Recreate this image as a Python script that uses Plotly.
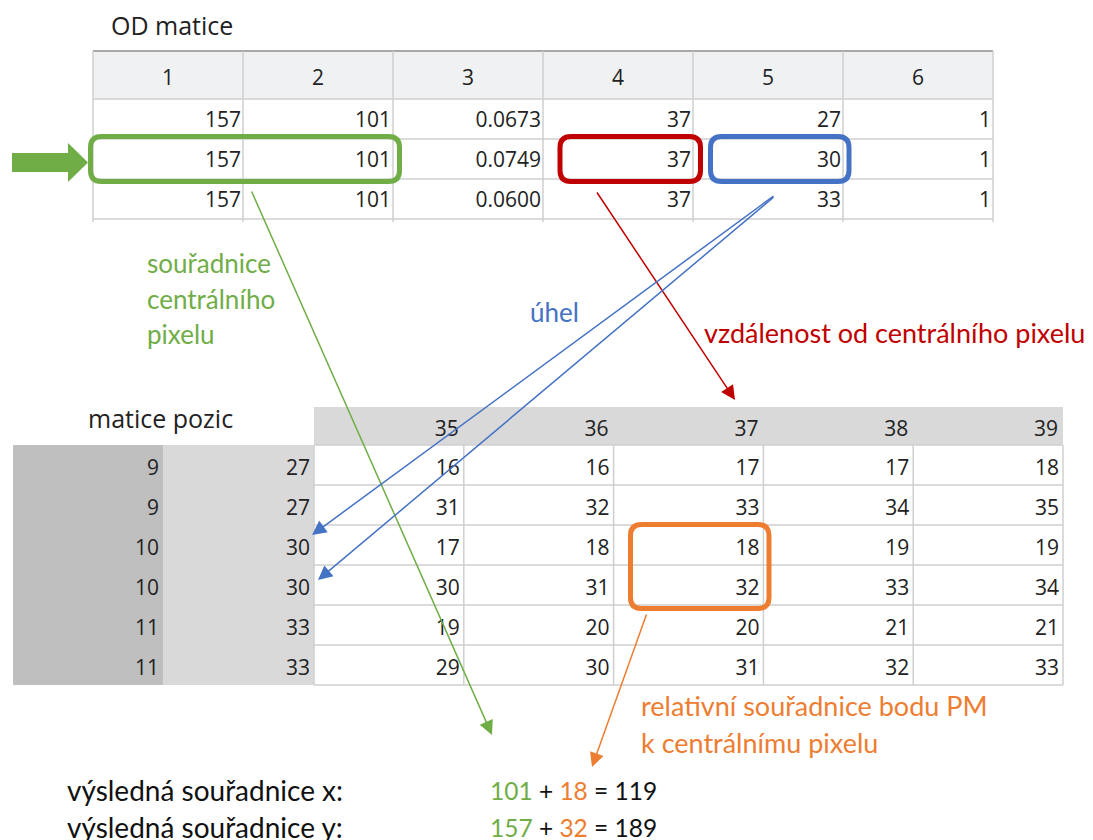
import plotly.graph_objects as go

W, H = 1093, 840

# ---------------- data ----------------
od_title = "OD matice"
od_header = ["1", "2", "3", "4", "5", "6"]
od_col1 = [157, 157, 157]
od_col2 = [101, 101, 101]
od_col3 = ["0.0673", "0.0749", "0.0600"]
od_col4 = [37, 37, 37]
od_col5 = [27, 30, 33]
od_col6 = [1, 1, 1]

pos_title = "matice pozic"
pos_header = [35, 36, 37, 38, 39]
pos_index_a = [9, 9, 10, 10, 11, 11]
pos_index_b = [27, 27, 30, 30, 33, 33]
pos_col35 = [16, 31, 17, 30, 19, 29]
pos_col36 = [16, 32, 18, 31, 20, 30]
pos_col37 = [17, 33, 18, 32, 20, 31]
pos_col38 = [17, 34, 19, 33, 21, 32]
pos_col39 = [18, 35, 19, 34, 21, 33]

result_labels = ["výsledná souřadnice x:", "výsledná souřadnice y:"]
central = [101, 157]
relative = [18, 32]
result = [119, 189]

label_central = ["souřadnice", "centrálního", "pixelu"]
label_angle = "úhel"
label_dist = "vzdálenost od centrálního pixelu"
label_rel = ["relativní souřadnice bodu PM", "k centrálnímu pixelu"]

# ---------------- style ----------------
GREEN = "#70ad47"
RED = "#c00000"
BLUE = "#4472c4"
ORANGE = "#ed7d31"
GRID = "#cfcfcf"
TFONT = "Open Sans"
LFONT = "Lato"
TSIZE = 21
TCOLOR = "#222"

fig = go.Figure()
shapes = []
annotations = []

# ---------------- OD table geometry ----------------
od_x = [93 + 150 * i for i in range(7)]
od_hy0, od_hy1 = 51, 99
od_rh = 40
od_ny = len(od_col1)
od_bottom = od_hy1 + od_rh * od_ny

shapes.append(dict(type="rect", x0=od_x[0], x1=od_x[-1], y0=od_hy0, y1=od_hy1,
                   fillcolor="#f0f1f3", line=dict(width=0), layer="below"))
for j in range(od_ny + 1):
    y = od_hy1 + od_rh * j
    shapes.append(dict(type="line", x0=od_x[0], x1=od_x[-1], y0=y, y1=y,
                       line=dict(color=GRID, width=1.5), layer="below"))
shapes.append(dict(type="line", x0=od_x[0], x1=od_x[-1], y0=od_hy0, y1=od_hy0,
                   line=dict(color="#a8a8a8", width=2), layer="below"))
for x in od_x:
    shapes.append(dict(type="line", x0=x, x1=x, y0=od_hy0, y1=od_bottom + 3,
                       line=dict(color=GRID, width=1.5), layer="below"))

fig.add_trace(go.Scatter(
    x=[(od_x[i] + od_x[i + 1]) / 2 for i in range(6)], y=[80] * 6,
    text=od_header, mode="text", textposition="middle center",
    textfont=dict(family=TFONT, size=TSIZE, color=TCOLOR), hoverinfo="skip"))
od_cols = [od_col1, od_col2, od_col3, od_col4, od_col5, od_col6]
for i, col in enumerate(od_cols):
    fig.add_trace(go.Scatter(
        x=[od_x[i + 1] - 2] * len(col),
        y=[od_hy1 + od_rh * (j + 0.5) + 3 for j in range(len(col))],
        text=[str(v) for v in col], mode="text", textposition="middle left",
        textfont=dict(family=TFONT, size=TSIZE, color=TCOLOR), hoverinfo="skip"))

annotations.append(dict(x=109, y=25, text=od_title, showarrow=False, xanchor="left",
                        yanchor="middle", font=dict(family=TFONT, size=25, color=TCOLOR)))

# ---------------- POS table geometry ----------------
pos_x = [314 + 149.8 * i for i in range(6)]
pos_hy0, pos_hy1 = 407, 445
pos_rh = 40
pos_ny = len(pos_index_a)
pos_bottom = pos_hy1 + pos_rh * pos_ny
idx_x = [13, 163, 314]

shapes.append(dict(type="rect", x0=pos_x[0], x1=pos_x[-1], y0=pos_hy0, y1=pos_hy1,
                   fillcolor="#d9d9d9", line=dict(width=0), layer="below"))
shapes.append(dict(type="rect", x0=idx_x[0], x1=idx_x[1], y0=pos_hy1, y1=pos_bottom,
                   fillcolor="#bfbfbf", line=dict(width=0), layer="below"))
shapes.append(dict(type="rect", x0=idx_x[1], x1=idx_x[2], y0=pos_hy1, y1=pos_bottom,
                   fillcolor="#d9d9d9", line=dict(width=0), layer="below"))
for j in range(pos_ny + 1):
    y = pos_hy1 + pos_rh * j
    shapes.append(dict(type="line", x0=pos_x[0], x1=pos_x[-1], y0=y, y1=y,
                       line=dict(color=GRID, width=1.5), layer="below"))
for x in pos_x:
    shapes.append(dict(type="line", x0=x, x1=x, y0=pos_hy1, y1=pos_bottom,
                       line=dict(color=GRID, width=1.5), layer="below"))

fig.add_trace(go.Scatter(
    x=[pos_x[i + 1] - 5 for i in range(5)], y=[431] * 5,
    text=[str(v) for v in pos_header], mode="text", textposition="middle left",
    textfont=dict(family=TFONT, size=TSIZE, color=TCOLOR), hoverinfo="skip"))
row_y = [pos_hy1 + pos_rh * (j + 0.5) + 5 for j in range(pos_ny)]
fig.add_trace(go.Scatter(
    x=[idx_x[1] - 4] * pos_ny, y=row_y, text=[str(v) for v in pos_index_a],
    mode="text", textposition="middle left",
    textfont=dict(family=TFONT, size=TSIZE, color=TCOLOR), hoverinfo="skip"))
fig.add_trace(go.Scatter(
    x=[idx_x[2] - 4] * pos_ny, y=row_y, text=[str(v) for v in pos_index_b],
    mode="text", textposition="middle left",
    textfont=dict(family=TFONT, size=TSIZE, color=TCOLOR), hoverinfo="skip"))
pos_cols = [pos_col35, pos_col36, pos_col37, pos_col38, pos_col39]
for i, col in enumerate(pos_cols):
    fig.add_trace(go.Scatter(
        x=[pos_x[i + 1] - 4] * len(col), y=row_y, text=[str(v) for v in col],
        mode="text", textposition="middle left",
        textfont=dict(family=TFONT, size=TSIZE, color=TCOLOR), hoverinfo="skip"))

annotations.append(dict(x=86, y=418, text=pos_title, showarrow=False, xanchor="left",
                        yanchor="middle", font=dict(family=TFONT, size=25, color=TCOLOR)))


# ---------------- highlight boxes ----------------
def rrect(x0, y0, x1, y1, r):
    return (f"M {x0 + r},{y0} L {x1 - r},{y0} Q {x1},{y0} {x1},{y0 + r} "
            f"L {x1},{y1 - r} Q {x1},{y1} {x1 - r},{y1} L {x0 + r},{y1} "
            f"Q {x0},{y1} {x0},{y1 - r} L {x0},{y0 + r} Q {x0},{y0} {x0 + r},{y0} Z")


for (x0, y0, x1, y1, c) in [(90.5, 136.5, 399.5, 181.5, GREEN),
                            (560, 136.5, 700.5, 181.5, RED),
                            (710.5, 136.5, 849, 181.5, BLUE),
                            (630.5, 524.5, 769, 608.5, ORANGE)]:
    shapes.append(dict(type="path", path=rrect(x0, y0, x1, y1, 11),
                       line=dict(color=c, width=5), fillcolor="rgba(0,0,0,0)", layer="above"))

shapes.append(dict(type="path",
                   path="M 12,153 L 68,153 L 68,143 L 88,162.5 L 68,182 L 68,172 L 12,172 Z",
                   fillcolor=GREEN, line=dict(width=0), layer="above"))


# ---------------- connector arrows ----------------
def arrow(x0, y0, x1, y1, c):
    annotations.append(dict(x=x1, y=y1, ax=x0, ay=y0, xref="x", yref="y", axref="x", ayref="y",
                            text="", showarrow=True, arrowhead=2, arrowsize=1.9,
                            arrowwidth=1.5, arrowcolor=c))


arrow(251, 190, 492, 735, GREEN)
arrow(596, 191, 735, 400, RED)
arrow(775, 195, 312, 535, BLUE)
arrow(775, 196, 318, 580, BLUE)
arrow(647, 613, 592, 767, ORANGE)

# ---------------- labels ----------------
for k, t in enumerate(label_central):
    annotations.append(dict(x=145, y=263 + 35.5 * k, text=t, showarrow=False, xanchor="left",
                            yanchor="middle", font=dict(family=LFONT, size=26, color=GREEN)))
annotations.append(dict(x=528, y=312, text=label_angle, showarrow=False, xanchor="left",
                        yanchor="middle", font=dict(family=LFONT, size=26, color=BLUE)))
annotations.append(dict(x=702, y=332, text=label_dist, showarrow=False, xanchor="left",
                        yanchor="middle", font=dict(family=LFONT, size=27, color=RED)))
for k, t in enumerate(label_rel):
    annotations.append(dict(x=639, y=705 + 37 * k, text=t, showarrow=False, xanchor="left",
                            yanchor="middle", font=dict(family=LFONT, size=27, color=ORANGE)))

for k in range(2):
    y = 790 + 37 * k
    annotations.append(dict(x=65, y=y, text=result_labels[k], showarrow=False, xanchor="left",
                            yanchor="middle", font=dict(family=LFONT, size=28, color="#111")))
    eq = (f"<span style='color:{GREEN}'>{central[k]}</span> + "
          f"<span style='color:{ORANGE}'>{relative[k]}</span> = {result[k]}")
    annotations.append(dict(x=488, y=y, text=eq, showarrow=False, xanchor="left",
                            yanchor="middle", font=dict(family=LFONT, size=24.5, color="#111")))

fig.update_layout(
    width=W, height=H, margin=dict(l=0, r=0, t=0, b=0),
    paper_bgcolor="white", plot_bgcolor="white", showlegend=False,
    xaxis=dict(range=[0, W], visible=False, fixedrange=True),
    yaxis=dict(range=[H, 0], visible=False, fixedrange=True),
    shapes=shapes, annotations=annotations,
)

fig.write_html("out.html", config={"displayModeBar": False},
               post_script="document.body.style.margin='0';document.body.style.overflow='hidden';")
